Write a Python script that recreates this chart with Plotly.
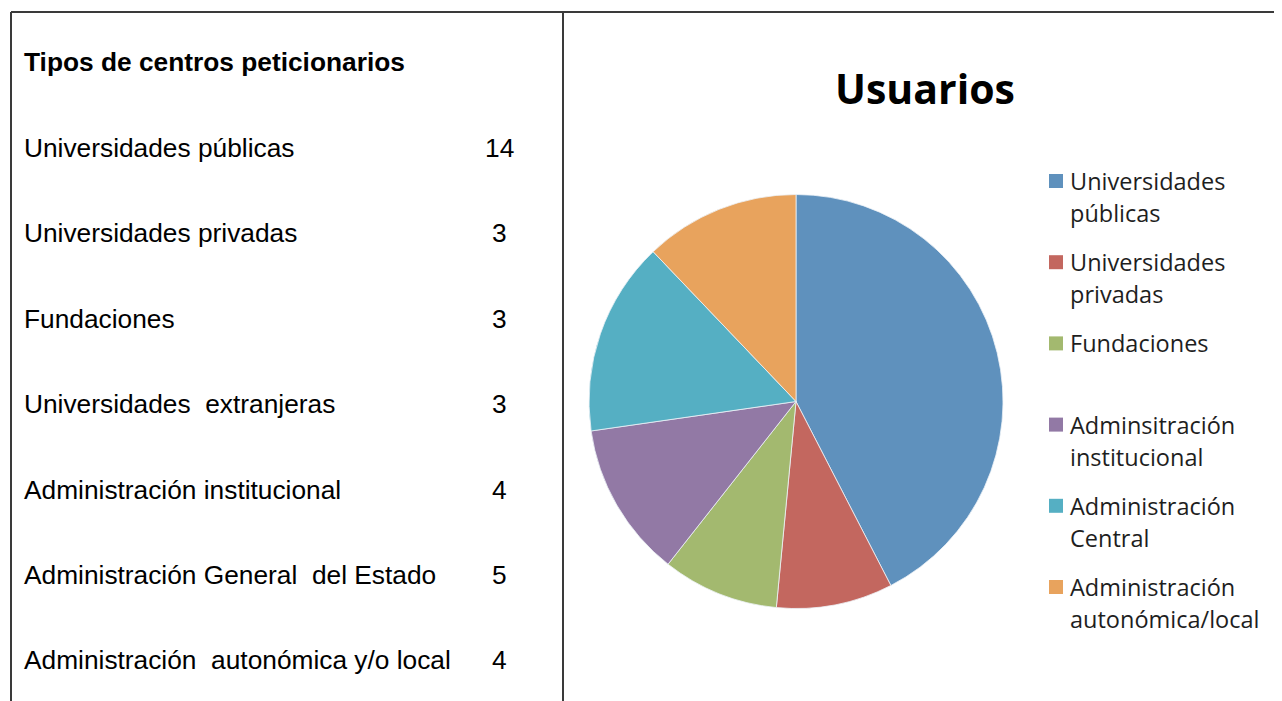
import plotly.graph_objects as go

# ---- data ----
table_title = "Tipos de centros peticionarios"
table_categories = [
    "Universidades públicas",
    "Universidades privadas",
    "Fundaciones",
    "Universidades  extranjeras",
    "Administración institucional",
    "Administración General  del Estado",
    "Administración  autonómica y/o local",
]
table_counts = [14, 3, 3, 3, 4, 5, 4]

chart_title = "Usuarios"
pie_labels = [
    "Universidades públicas",
    "Universidades privadas",
    "Fundaciones",
    "Adminsitración institucional",
    "Administración Central",
    "Administración autonómica/local",
]
legend_lines = [
    ["Universidades", "públicas"],
    ["Universidades", "privadas"],
    ["Fundaciones"],
    ["Adminsitración", "institucional"],
    ["Administración", "Central"],
    ["Administración", "autonómica/local"],
]
pie_values = [14, 3, 3, 4, 5, 4]
pie_colors = ["#5F91BD", "#C3675F", "#A3B96F", "#9279A5", "#55AFC3", "#E8A35D"]

# ---- layout helpers (page has an 8px body margin) ----
W, H = 1282, 701
OX, OY = 8, 8
def px(x):
    return (x - OX) / W
def py(y):
    return 1 - (y - OY) / H

fig = go.Figure()

cx, cy, r = 796, 401.5, 207
fig.add_trace(go.Pie(
    labels=pie_labels,
    values=pie_values,
    sort=False,
    direction="clockwise",
    rotation=0,
    textinfo="none",
    marker=dict(colors=pie_colors, line=dict(color="#EEF2F7", width=0.8)),
    domain=dict(x=[px(cx - r), px(cx + r)], y=[py(cy + r), py(cy - r)]),
    showlegend=False,
))

shapes = []
line_style = dict(color="#3A3A3A", width=2)
shapes.append(dict(type="line", xref="paper", yref="paper", x0=px(11), x1=px(11), y0=py(12), y1=py(720), line=line_style))
shapes.append(dict(type="line", xref="paper", yref="paper", x0=px(11), x1=px(1300), y0=py(12), y1=py(12), line=line_style))
shapes.append(dict(type="line", xref="paper", yref="paper", x0=px(563), x1=px(563), y0=py(12), y1=py(720), line=line_style))

annotations = []
left_font = "Liberation Sans, Arial, sans-serif"
annotations.append(dict(text="<b>" + table_title + "</b>", x=px(22), y=py(62), xref="paper", yref="paper",
                        xanchor="left", yanchor="middle", showarrow=False,
                        font=dict(family=left_font, size=26.3, color="#000000")))
row_y0, row_step = 148, 85.4
for i, (cat, cnt) in enumerate(zip(table_categories, table_counts)):
    yy = row_y0 + i * row_step
    annotations.append(dict(text=cat, x=px(22), y=py(yy), xref="paper", yref="paper",
                            xanchor="left", yanchor="middle", showarrow=False,
                            font=dict(family=left_font, size=26.3, color="#000000")))
    annotations.append(dict(text=str(cnt), x=px(499.5), y=py(yy), xref="paper", yref="paper",
                            xanchor="center", yanchor="middle", showarrow=False,
                            font=dict(family=left_font, size=26.3, color="#000000")))

# chart title
annotations.append(dict(text="<b>" + chart_title + "</b>", x=px(925), y=py(88), xref="paper", yref="paper",
                        xanchor="center", yanchor="middle", showarrow=False,
                        font=dict(family="Open Sans, Lato, sans-serif", size=41, color="#000000")))

# legend (manual, fixed spacing)
leg_font = "Open Sans, Lato, sans-serif"
leg_y0, leg_step, line_gap = 181, 81.2, 32
for i, (lines, col) in enumerate(zip(legend_lines, pie_colors)):
    yy = leg_y0 + i * leg_step
    shapes.append(dict(type="rect", xref="paper", yref="paper",
                       x0=px(1049), x1=px(1063), y0=py(yy - 7), y1=py(yy + 7),
                       fillcolor=col, line=dict(width=0)))
    for j, t in enumerate(lines):
        annotations.append(dict(text=t, x=px(1068), y=py(yy + j * line_gap), xref="paper", yref="paper",
                                xanchor="left", yanchor="middle", showarrow=False,
                                font=dict(family=leg_font, size=23.5, color="#1E1E1E")))

fig.update_layout(
    width=W, height=H,
    margin=dict(l=0, r=0, t=0, b=0),
    paper_bgcolor="#FFFFFF",
    plot_bgcolor="#FFFFFF",
    shapes=shapes,
    annotations=annotations,
)

fig.write_html("out.html")
